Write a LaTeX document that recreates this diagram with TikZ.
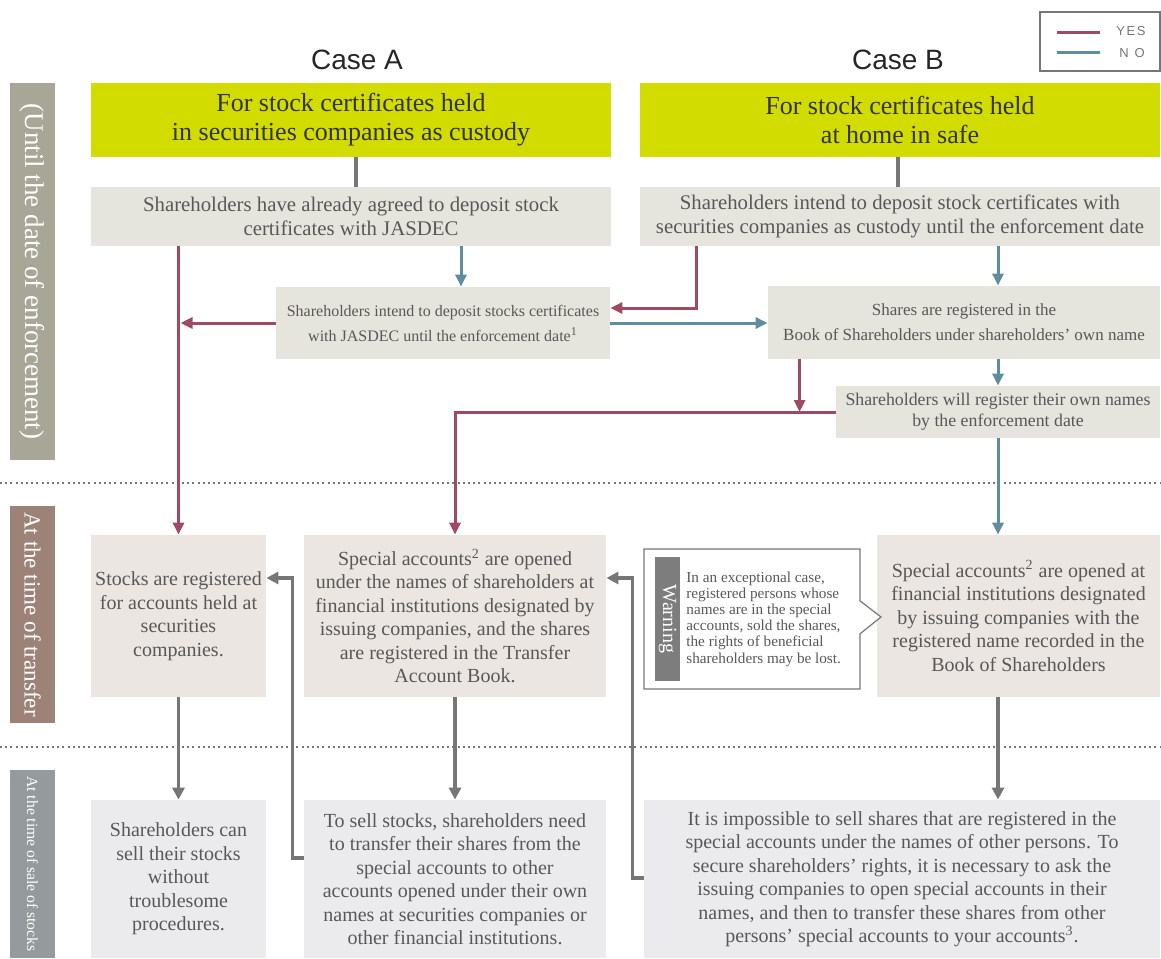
\documentclass[tikz,border=0pt]{standalone}
\usepackage{fontspec}
\setmainfont{Liberation Serif}
\setsansfont{Liberation Sans}
\usepackage{tikz}
\usetikzlibrary{calc, arrows.meta, shapes.callouts}
\definecolor{yesred}{RGB}{158, 74, 99}
\definecolor{noblue}{RGB}{95, 141, 160}
\definecolor{limegreen}{RGB}{211, 220, 0}
\definecolor{upperfill}{RGB}{229, 228, 221}
\definecolor{transferfill}{RGB}{235, 230, 226}
\definecolor{salefill}{RGB}{235, 235, 237}
\definecolor{textgray}{RGB}{88, 88, 88}
\definecolor{arrowgray}{RGB}{118, 118, 118}
\definecolor{barkhaki}{RGB}{168, 166, 151}
\definecolor{barbrown}{RGB}{157, 130, 119}
\definecolor{barslate}{RGB}{149, 155, 157}
\tikzstyle{normalBox} = [shape=rectangle, inner sep=0pt, align=center,
	text=textgray]
\tikzstyle{headBox} = [normalBox, fill=limegreen, text=black!80,
	minimum width=260pt, minimum height=37pt, font=\fontsize{13}{14.5}\selectfont]
\tikzstyle{upperBox} = [normalBox, fill=upperfill, font=\fontsize{10.4}{12}\selectfont]
\tikzstyle{smallBox} = [normalBox, fill=upperfill, font=\fontsize{8}{12.5}\selectfont]
\tikzstyle{transferBox} = [normalBox, fill=transferfill, minimum height=81pt,
	font=\fontsize{10}{11.75}\selectfont]
\tikzstyle{saleBox} = [normalBox, fill=salefill, minimum height=79pt,
	font=\fontsize{10}{11.75}\selectfont]
\tikzstyle{sideBar} = [shape=rectangle, rotate=-90, inner sep=0pt, text=white,
	minimum height=22.5pt]
\tikzstyle{yesArrow} = [line width=1.5pt, -{Triangle[length=6pt, width=5.5pt]}, yesred]
\tikzstyle{noArrow} = [line width=1.5pt, -{Triangle[length=6pt, width=5.5pt]}, noblue]
\tikzstyle{backArrow} = [line width=1.8pt, -{Triangle[length=6pt, width=6pt]}, arrowgray]
\tikzstyle{sepLine} = [line width=1pt, arrowgray, dash pattern=on 1pt off 1.6pt]

\begin{document}
\begin{tikzpicture}[x=0.5pt, y=-0.5pt]
  \useasboundingbox (0,0) rectangle (1161,958);

  % side bars
  \node (UNTIL) [sideBar, fill=barkhaki, minimum width=188.5pt,
    font=\fontsize{13.5}{15}\selectfont] at (32.5,271.5) {(Until the date of enforcement)};
  \node (ATTRANS) [sideBar, fill=barbrown, minimum width=108.5pt,
    font=\fontsize{11.5}{13}\selectfont] at (32.5,614.5) {At the time of transfer};
  \node (ATSALE) [sideBar, fill=barslate, minimum width=94pt,
    font=\fontsize{7.8}{9}\selectfont] at (32.5,864) {At the time of sale of stocks};
  \draw [sepLine] (0,483) -- (1161,483);
  \draw [sepLine] (0,747) -- (1161,747);

  % legend
  \node (LEGEND) [shape=rectangle, draw=arrowgray, line width=0.6pt,
    minimum width=60pt, minimum height=29.5pt] at (1100,41.5) {};
  \draw [line width=1.5pt, yesred] (1057,32) -- (1100,32);
  \draw [line width=1.5pt, noblue] (1057,52) -- (1100,52);
  \node (YES) [text=arrowgray, font=\sffamily\fontsize{6.5}{8}\selectfont\addfontfeature{LetterSpace=12}]
    at (1131,31) {YES};
  \node (NO) [text=arrowgray, font=\sffamily\fontsize{6.5}{8}\selectfont\addfontfeature{LetterSpace=45}]
    at (1132,53) {NO};

  % case A
  \node (CASEA) [font=\sffamily\fontsize{14}{16}\selectfont, text=black!85] at (357,60) {Case A};
  \node (HEADA) [headBox] at (351,120) {For stock certificates held\\in securities companies as custody};
  \node (AGREEA) [upperBox, minimum width=260pt, minimum height=29.5pt] at (351,216.5)
    {Shareholders have already agreed to deposit stock\\certificates with JASDEC};
  \node (INTA) [smallBox, minimum width=167pt, minimum height=36pt] at (443,323)
    {Shareholders intend to deposit stocks certificates\\with JASDEC until the enforcement date\textsuperscript{1}};

  % case B
  \node (CASEB) [font=\sffamily\fontsize{14}{16}\selectfont, text=black!85] at (898,60) {Case B};
  \node (HEADB) [headBox] at (900,120) {For stock certificates held\\at home in safe};
  \node (AGREEB) [upperBox, minimum width=260pt, minimum height=29.5pt] at (900,216.5)
    {Shareholders intend to deposit stock certificates with\\securities companies as custody until the enforcement date};
  \node (REGB) [smallBox, font=\fontsize{8.5}{12.5}\selectfont, minimum width=196pt,
    minimum height=36.5pt] at (964,322.5)
    {Shares are registered in the\\Book of Shareholders under shareholders’ own name};
  \node (WILLB) [smallBox, font=\fontsize{8.9}{10.5}\selectfont, minimum width=162pt,
    minimum height=26pt] at (998,412)
    {Shareholders will register their own names\\by the enforcement date};

  % at the time of transfer
  \node (SECA) [transferBox, minimum width=87.5pt] at (178.5,616)
    {Stocks are registered\\for accounts held at\\securities\\companies.};
  \node (SPECA) [transferBox, minimum width=151pt] at (455,616)
    {Special accounts\textsuperscript{2} are opened\\under the names of shareholders at\\financial institutions designated by\\issuing companies, and the shares\\are registered in the Transfer\\Account Book.};
  \node (SPECB) [transferBox, minimum width=141.5pt] at (1018.5,616)
    {Special accounts\textsuperscript{2} are opened at\\financial institutions designated\\by issuing companies with the\\registered name recorded in the\\Book of Shareholders};
  \node (WARN) [rectangle callout, draw=arrowgray, line width=0.6pt, fill=white,
    minimum width=108pt, minimum height=70pt, callout absolute pointer={(881,617)},
    callout pointer width=16.5pt] at (752,619) {};
  \node (WARNTAG) [sideBar, fill=arrowgray!95, minimum width=62pt, minimum height=12.5pt,
    font=\fontsize{10}{11}\selectfont] at (667.5,619) {Warning};
  \node (WARNTXT) [anchor=west, align=left, inner sep=0pt, text=textgray,
    font=\fontsize{7.6}{8.1}\selectfont] at (686,619)
    {In an exceptional case,\\registered persons whose\\names are in the special\\accounts, sold the shares,\\the rights of beneficial\\shareholders may be lost.};

  % at the time of sale
  \node (SELLA) [saleBox, minimum width=87.5pt] at (178.5,879)
    {Shareholders can\\sell their stocks\\without\\troublesome\\procedures.};
  \node (TRANSA) [saleBox, minimum width=151pt] at (455,879)
    {To sell stocks, shareholders need\\to transfer their shares from the\\special accounts to other\\accounts opened under their own\\names at securities companies or\\other financial institutions.};
  \node (IMPB) [saleBox, minimum width=258pt] at (902,879)
    {It is impossible to sell shares that are registered in the\\special accounts under the names of other persons. To\\secure shareholders’ rights, it is necessary to ask the\\issuing companies to open special accounts in their\\names, and then to transfer these shares from other\\persons’ special accounts to your accounts\textsuperscript{3}.};

  % connectors
  \coordinate (BLUEA) at ($(INTA.north)+(18,0)$);
  \coordinate (REDB) at ($(REGB.south west)+(32,0)$);
  \coordinate (REDTOP) at ($(AGREEB.south west)+(57,0)$);
  \draw [line width=2pt, arrowgray] ($(HEADA.south)+(5,0)$) -- ($(AGREEA.north)+(5,0)$);
  \draw [line width=2pt, arrowgray] ($(HEADB.south)+(-2,0)$) -- ($(AGREEB.north)+(-2,0)$);
  \draw [yesArrow] (AGREEA.south -| SECA.north) -- (SECA.north);
  \draw [noArrow] (BLUEA |- AGREEA.south) -- (BLUEA);
  \draw [yesArrow] (INTA.west) -- ($(INTA.west -| SECA.north)+(2,0)$);
  \draw [noArrow] (INTA.east) -- (INTA.east -| REGB.west);
  \draw [yesArrow] (REDTOP) |- ($(INTA.east)+(0,-15)$);
  \draw [noArrow] (AGREEB.south -| WILLB.north) -- (REGB.north -| WILLB.north);
  \draw [noArrow] (REGB.south -| WILLB.north) -- (WILLB.north);
  \draw [yesArrow] (REDB) -- (REDB |- WILLB.west);
  \draw [yesArrow] (WILLB.west) -| (SPECA.north);
  \draw [noArrow] (WILLB.south) -- (WILLB.south |- SPECB.north);
  \draw [backArrow] (SECA.south) -- (SELLA.north);
  \draw [backArrow] (SPECA.south) -- (TRANSA.north);
  \draw [backArrow] (SPECB.south -| WILLB.south) -- (IMPB.north -| WILLB.south);
  \draw [backArrow] (TRANSA.west |- 0,858) -- ++(-11,0) |- (SECA.east |- 0,578);
  \draw [backArrow] (IMPB.west |- 0,878) -- ++(-11,0) |- (SPECA.east |- 0,578);

\end{tikzpicture}
\end{document}
